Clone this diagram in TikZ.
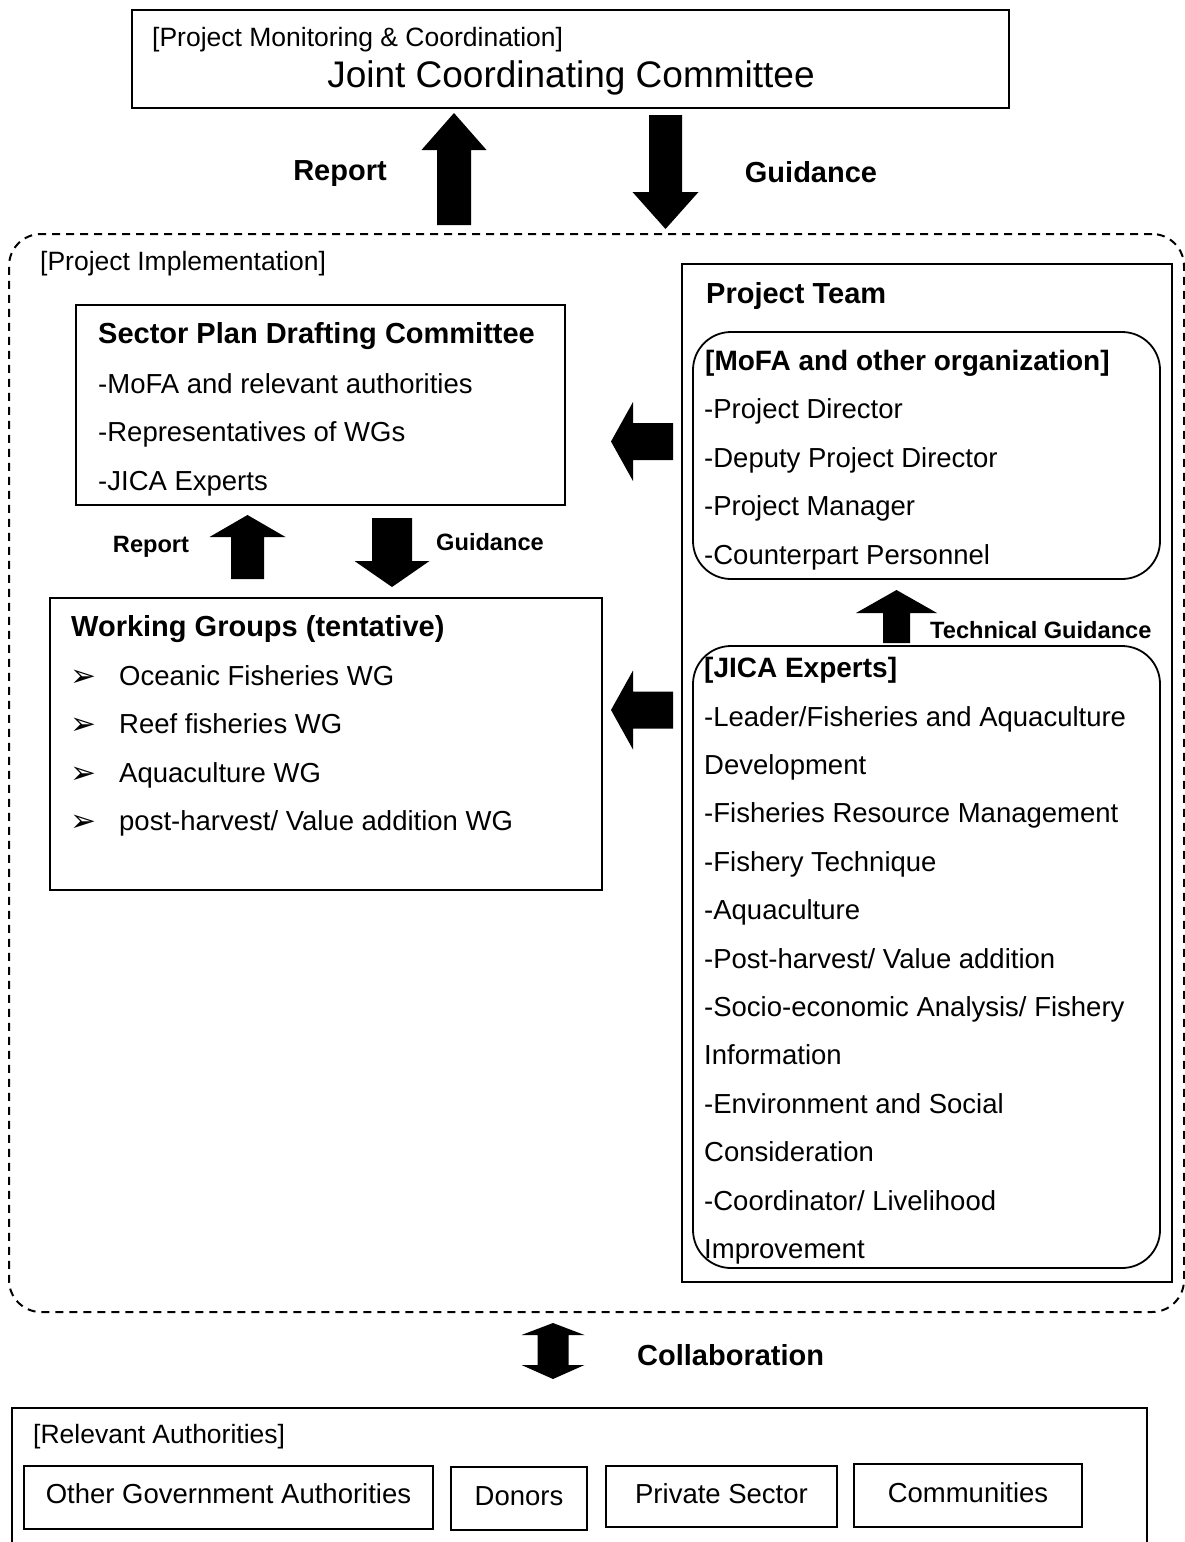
\documentclass[tikz,border=0pt]{standalone}
\usepackage{fontspec}
\setmainfont{Liberation Sans}
\newfontfamily\dejavu{DejaVu Sans}
\newcommand\fsz[1]{\fontsize{#1}{#1}\selectfont}
\newcommand\BlkUp[6]{\fill (#1-#6,#3) -- (#1,#2) -- (#1+#6,#3) -- (#1+#5,#3) -- (#1+#5,#4) -- (#1-#5,#4) -- (#1-#5,#3) -- cycle;}
\newcommand\BlkDown[6]{\fill (#1-#6,#3) -- (#1,#2) -- (#1+#6,#3) -- (#1+#5,#3) -- (#1+#5,#4) -- (#1-#5,#4) -- (#1-#5,#3) -- cycle;}
\newcommand\BlkLeft[6]{\fill (#3,#1-#6) -- (#2,#1) -- (#3,#1+#6) -- (#3,#1+#5) -- (#4,#1+#5) -- (#4,#1-#5) -- (#3,#1-#5) -- cycle;}
\begin{document}
\begin{tikzpicture}[x=1pt,y=-1pt,
  box/.style={draw, line width=2.2pt, anchor=north west, inner sep=0pt, outer sep=0pt},
  rbox/.style={box, rounded corners=38pt, line width=1.8pt},
  txt/.style={anchor=base west, inner sep=0pt, font=\fsz{27.5}},
  lbl/.style={anchor=base west, inner sep=0pt, font=\fsz{26.5}},
  ttl/.style={anchor=base west, inner sep=0pt, font=\fsz{29}\bfseries},
  btxt/.style={anchor=base, inner sep=0pt, font=\fsz{29}\bfseries},
  stxt/.style={anchor=base, inner sep=0pt, font=\fsz{23.6}\bfseries},
  stxtw/.style={anchor=base west, inner sep=0pt, font=\fsz{23.6}\bfseries},
  bul/.style={anchor=base west, inner sep=0pt, font=\dejavu\fsz{31}}]
\useasboundingbox (0,0) rectangle (1185,1542);
\fill[white] (0,0) rectangle (1185,1542);

% Top box
\node[box, minimum width=877, minimum height=98] (jcc) at (132,10) {};
\node[lbl] (jccl) at (152,46) {[Project Monitoring \& Coordination]};
\node[anchor=base, inner sep=0pt, font=\fsz{37}] (jcct) at (571,87) {Joint Coordinating Committee};

% Report / Guidance big arrows
\BlkUp{454}{113}{150}{225}{17}{32.5}
\BlkDown{665.5}{229}{192}{115}{16.5}{33}
\node[btxt] (rep) at (340,180) {Report};
\node[btxt] (gui) at (811,182) {Guidance};

% Dashed implementation area
\node[draw, line width=2pt, dash pattern=on 8pt off 6pt, rounded corners=32pt, anchor=north west, inner sep=0pt,
  minimum width=1175, minimum height=1078] (impl) at (8,233) {};
\node[lbl] (impll) at (40,270) {[Project Implementation]};

% Sector plan drafting committee
\node[box, minimum width=489, minimum height=200] (spdc) at (76,305) {};
\node[ttl] at (98,343) {Sector Plan Drafting Committee};
\node[txt] at (98,393) {-MoFA and relevant authorities};
\node[txt] at (98,441) {-Representatives of WGs};
\node[txt] at (98,490) {-JICA Experts};

% small arrows
\BlkUp{247.5}{515}{537}{579}{16.5}{38}
\BlkDown{392}{587}{561}{518}{20}{37.5}
\node[stxt] (srep) at (151,552.5) {Report};
\node[stxt] (sgui) at (490,550.5) {Guidance};

% Working groups
\node[box, minimum width=552, minimum height=292] (wg) at (50,598) {};
\node[ttl] at (71,636) {Working Groups (tentative)};
\node[bul] at (70,686) {➢};
\node[txt] at (119,685) {Oceanic Fisheries WG};
\node[bul] at (70,734) {➢};
\node[txt] at (119,733) {Reef fisheries WG};
\node[bul] at (70,783) {➢};
\node[txt] at (119,782) {Aquaculture WG};
\node[bul] at (70,831) {➢};
\node[txt] at (119,830) {post-harvest/ Value addition WG};

% Project team
\node[box, minimum width=490, minimum height=1018] (pt) at (682,264) {};
\node[ttl] at (706,303) {Project Team};
\node[rbox, minimum width=467, minimum height=247] (mofa) at (693,332) {};
\node[ttl, font=\fsz{28}\bfseries] at (705,370) {[MoFA and other organization]};
\node[txt] at (704,418) {-Project Director};
\node[txt] at (704,467) {-Deputy Project Director};
\node[txt] at (704,515) {-Project Manager};
\node[txt] at (704,564) {-Counterpart Personnel};

\BlkUp{896.5}{590}{613}{643}{13.5}{40.5}
\node[stxtw] (tg) at (930,638.5) {Technical Guidance};

\node[rbox, minimum width=467, minimum height=622] (jica) at (693,646) {};
\node[ttl, font=\fsz{28}\bfseries] at (704,677) {[JICA Experts]};
\node[txt] at (704,726.0) {-Leader/Fisheries and Aquaculture};
\node[txt] at (704,774.4) {Development};
\node[txt] at (704,822.8) {-Fisheries Resource Management};
\node[txt] at (704,871.2) {-Fishery Technique};
\node[txt] at (704,919.6) {-Aquaculture};
\node[txt] at (704,968.0) {-Post-harvest/ Value addition};
\node[txt] at (704,1016.4) {-Socio-economic Analysis/ Fishery};
\node[txt] at (704,1064.8) {Information};
\node[txt] at (704,1113.2) {-Environment and Social};
\node[txt] at (704,1161.6) {Consideration};
\node[txt] at (704,1210.0) {-Coordinator/ Livelihood};
\node[txt] at (704,1258.4) {Improvement};

% Left arrows
\BlkLeft{441.5}{611}{633}{673}{18.5}{39.5}
\BlkLeft{710}{611}{633}{673}{18.5}{39.5}

% Collaboration
\fill (553-15.5,1335) -- (553-31.5,1335) -- (553,1323) -- (553+31.5,1335) -- (553+15.5,1335)
  -- (553+15.5,1365) -- (553+31.5,1365) -- (553,1379) -- (553-31.5,1365) -- (553-15.5,1365) -- cycle;
\node[btxt, anchor=base west] (col) at (637,1365) {Collaboration};

% Relevant authorities
\draw[line width=2.2pt] (12,1560) -- (12,1408) -- (1147,1408) -- (1147,1560);
\coordinate (ra) at (12,1408);
\node[lbl] at (33,1443) {[Relevant Authorities]};
\node[box, minimum width=409, minimum height=63] (oga) at (24,1466) {};
\node[anchor=base, inner sep=0pt, font=\fsz{27.5}] at (228.5,1503) {Other Government Authorities};
\node[box, minimum width=136, minimum height=63] (don) at (451,1467) {};
\node[anchor=base, inner sep=0pt, font=\fsz{27.5}] at (519,1505) {Donors};
\node[box, minimum width=231, minimum height=61] (ps) at (606,1466) {};
\node[anchor=base, inner sep=0pt, font=\fsz{27.5}] at (721.5,1503) {Private Sector};
\node[box, minimum width=228, minimum height=63] (com) at (854,1464) {};
\node[anchor=base, inner sep=0pt, font=\fsz{27.5}] at (968,1502) {Communities};
\end{tikzpicture}
\end{document}
